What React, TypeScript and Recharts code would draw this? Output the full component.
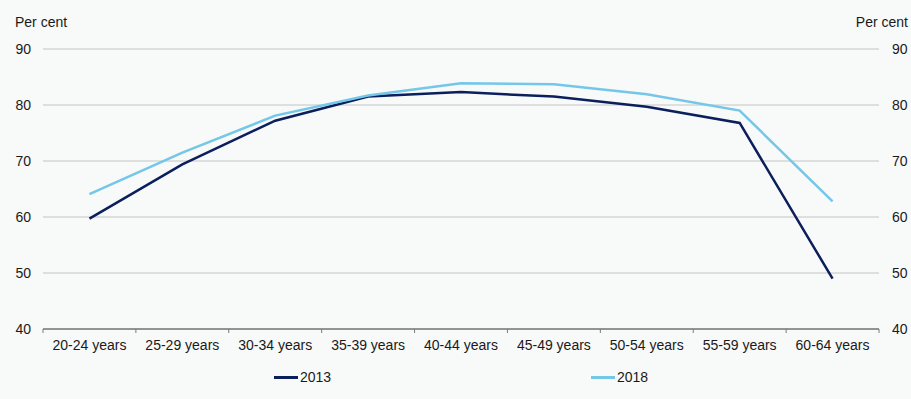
import { LineChart, Line, XAxis, YAxis, CartesianGrid, Legend } from 'recharts';

const AGE_GROUPS = [
  '20-24 years',
  '25-29 years',
  '30-34 years',
  '35-39 years',
  '40-44 years',
  '45-49 years',
  '50-54 years',
  '55-59 years',
  '60-64 years',
];
const RATE_2013 = [59.7, 69.4, 77.2, 81.5, 82.3, 81.5, 79.7, 76.8, 49.0];
const RATE_2018 = [64.1, 71.5, 78.1, 81.7, 83.9, 83.7, 81.9, 79.0, 62.8];
const Y_TICKS = [40, 50, 60, 70, 80, 90];

// both axes share the same 40-90 range, so each series sits on one of them
const SERIES = [
  { key: 'y2013', name: '2013', color: '#0a1f5c', axis: 'left' },
  { key: 'y2018', name: '2018', color: '#74c7e8', axis: 'right' },
];

const data = AGE_GROUPS.map((age, i) => ({ age, y2013: RATE_2013[i], y2018: RATE_2018[i] }));

const FONT = '"Liberation Sans", Arial, sans-serif';
const TEXT = '#1a1a1a';
const AXIS = '#7a7a7a';

// category label plus small tick marks on the boundaries between categories
function AgeTick(props: any) {
  const { x, y, payload, index, visibleTicksCount } = props;
  const half = payload?.offset ?? 0;
  const isLast = index === visibleTicksCount - 1;
  return (
    <g>
      <line x1={x - half} x2={x - half} y1={y} y2={y + 4} stroke={AXIS} />
      {isLast && <line x1={x + half} x2={x + half} y1={y} y2={y + 4} stroke={AXIS} />}
      <text x={x} y={y + 21} textAnchor="middle" fill={TEXT} fontSize={14} fontFamily={FONT}>
        {payload.value}
      </text>
    </g>
  );
}

function LegendRow() {
  const spots = [274, 591];
  return (
    <div style={{ position: 'relative', width: 911, height: 40, fontFamily: FONT }}>
      {SERIES.map((s, i) => (
        <div
          key={s.key}
          style={{ position: 'absolute', left: spots[i], top: 9, display: 'flex', alignItems: 'center', height: 18 }}
        >
          <span style={{ display: 'inline-block', width: 24, height: 3, background: s.color }} />
          <span style={{ marginLeft: 2, fontSize: 14, color: TEXT }}>{s.name}</span>
        </div>
      ))}
    </div>
  );
}

export default function App() {
  return (
    <div style={{ position: 'absolute', left: 0, top: 0, width: 911, height: 399, background: '#f8f9f9' }}>
      <LineChart width={911} height={399} data={data} margin={{ top: 49, right: 0, bottom: 0, left: 0 }} style={{ fontFamily: FONT }}>
        <CartesianGrid yAxisId="left" vertical={false} stroke="#c4c4c4" />
        <XAxis
          dataKey="age"
          scale="band"
          height={30}
          tickLine={false}
          tickSize={0}
          tickMargin={0}
          axisLine={{ stroke: AXIS, strokeWidth: 1.5 }}
          tick={<AgeTick />}
          interval={0}
        />
        <YAxis
          yAxisId="left"
          width={43}
          domain={[40, 90]}
          ticks={Y_TICKS}
          axisLine={false}
          tickLine={false}
          tickMargin={6}
          tick={{ fill: TEXT, fontSize: 14, fontFamily: FONT }}
          label={(p: any) => (
            <text x={p.viewBox.x + 15} y={p.viewBox.y - 22} fill={TEXT} fontSize={14} fontFamily={FONT}>
              Per cent
            </text>
          )}
        />
        <YAxis
          yAxisId="right"
          orientation="right"
          width={32}
          domain={[40, 90]}
          ticks={Y_TICKS}
          axisLine={false}
          tickLine={false}
          tickMargin={7}
          tick={{ fill: TEXT, fontSize: 14, fontFamily: FONT }}
          label={(p: any) => (
            <text x={p.viewBox.x + p.viewBox.width - 3} y={p.viewBox.y - 22} textAnchor="end" fill={TEXT} fontSize={14} fontFamily={FONT}>
              Per cent
            </text>
          )}
        />
        <Legend verticalAlign="bottom" content={() => <LegendRow />} wrapperStyle={{ left: 0 }} />
        {SERIES.map((s) => (
          <Line
            key={s.key}
            yAxisId={s.axis}
            type="linear"
            dataKey={s.key}
            name={s.name}
            stroke={s.color}
            strokeWidth={2.5}
            dot={false}
            activeDot={false}
            isAnimationActive={false}
          />
        ))}
      </LineChart>
    </div>
  );
}
